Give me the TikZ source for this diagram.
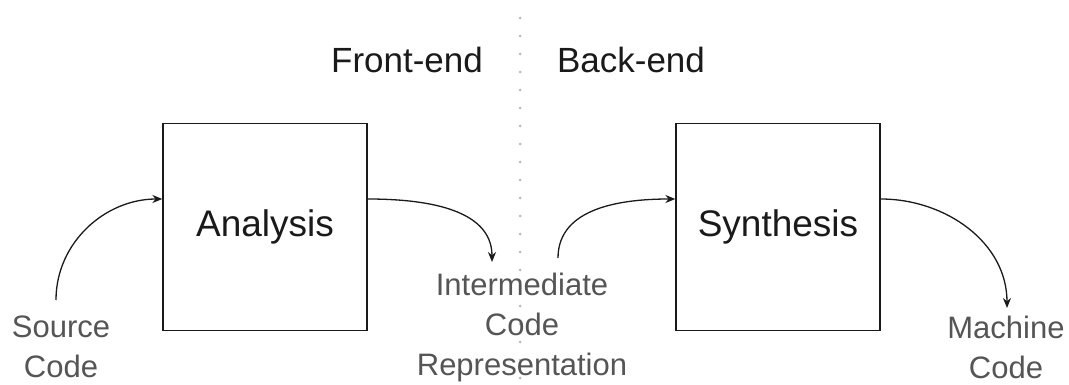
\documentclass[tikz,border=0pt]{standalone}
\usepackage{fontspec}
\setmainfont{Liberation Sans}
\usetikzlibrary{arrows.meta}
\definecolor{lbl}{HTML}{555555}
\definecolor{ink}{HTML}{1A1A1A}
\definecolor{dotc}{HTML}{BBBBBB}
\begin{document}
\begin{tikzpicture}[x=1pt,y=-1pt,
  stagebox/.style={draw=ink, line width=1.3pt, minimum width=204pt, minimum height=207pt, inner sep=0pt, font=\fontsize{37}{44}\selectfont, text=ink},
  head/.style={font=\fontsize{35}{42}\selectfont, text=ink, inner sep=0pt},
  lab/.style={font=\fontsize{31}{40}\selectfont, text=lbl, align=center, inner sep=0pt},
  flow/.style={draw=ink, line width=1.3pt, -{Stealth[length=10pt,width=8pt]}}
]
\useasboundingbox (0,0) rectangle (1069,385);
\fill[white] (0,0) rectangle (1069,385);
% divider
\coordinate (divtop) at (520,18);
\coordinate (divbot) at (520,385);
\draw[dotc, line width=3pt, line cap=round, dash pattern=on 0pt off 18pt] (divtop) -- (divbot);
% headings
\node[head] (fe) at (407,60) {Front-end};
\node[head] (be) at (631,60) {Back-end};
% boxes
\node[stagebox] (ana) at (265,227) {Analysis};
\node[stagebox] (syn) at (778,227) {Synthesis};
% labels
\node[lab] (src) at (61,347) {Source\\Code};
\node[lab] (ir) at (522,327) {Intermediate\\Code\\Representation};
\node[lab] (mc) at (1006,347) {Machine\\Code};
% connector ends
\coordinate (srcTop) at (56,300);
\coordinate (irIn) at (492,262);
\coordinate (irOut) at (558,258);
\coordinate (mcTop) at (1007,308);
\coordinate (anaIn) at (ana.west |- 0,199);
\coordinate (anaOut) at (ana.east |- 0,199);
\coordinate (synIn) at (syn.west |- 0,199);
\coordinate (synOut) at (syn.east |- 0,199);
% arrows
\draw[flow] (srcTop) to[out=90,in=180] (anaIn);
\draw[flow] (anaOut) to[out=0,in=90] (irIn);
\draw[flow] (irOut) to[out=90,in=180] (synIn);
\draw[flow] (synOut) to[out=0,in=90] (mcTop);
\end{tikzpicture}
\end{document}
